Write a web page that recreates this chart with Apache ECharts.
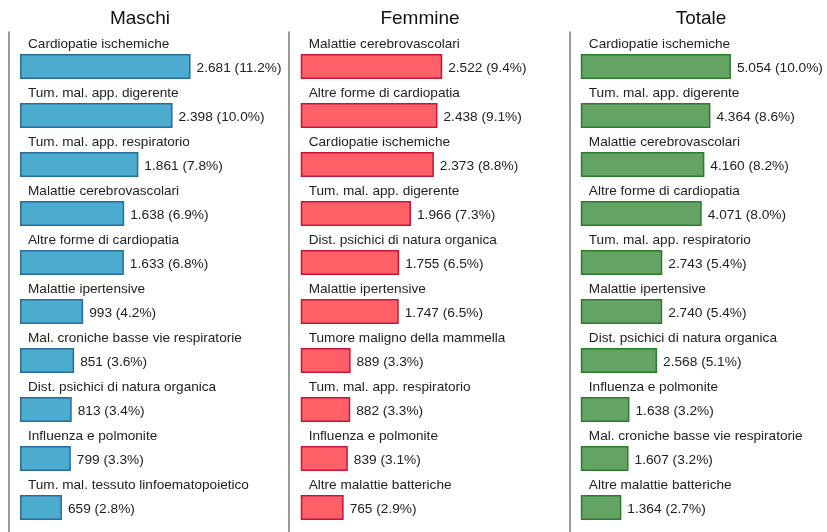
<!DOCTYPE html>
<html>
<head>
<meta charset="utf-8">
<script src="https://cdn.jsdelivr.net/npm/echarts@6/dist/echarts.min.js"></script>
<style>
  html, body { margin: 0; padding: 0; background: #fff; }
  #chart { width: 827px; height: 532px; }
</style>
</head>
<body>
<div id="chart"></div>
<script>
const titoli = ['Maschi', 'Femmine', 'Totale']

const causeMaschi = ['Cardiopatie ischemiche', 'Tum. mal. app. digerente', 'Tum. mal. app. respiratorio',
  'Malattie cerebrovascolari', 'Altre forme di cardiopatia', 'Malattie ipertensive',
  'Mal. croniche basse vie respiratorie', 'Dist. psichici di natura organica',
  'Influenza e polmonite', 'Tum. mal. tessuto linfoematopoietico']
const decessiMaschi = [2681, 2398, 1861, 1638, 1633, 993, 851, 813, 799, 659]
const percMaschi = [11.2, 10.0, 7.8, 6.9, 6.8, 4.2, 3.6, 3.4, 3.3, 2.8]

const causeFemmine = ['Malattie cerebrovascolari', 'Altre forme di cardiopatia', 'Cardiopatie ischemiche',
  'Tum. mal. app. digerente', 'Dist. psichici di natura organica', 'Malattie ipertensive',
  'Tumore maligno della mammella', 'Tum. mal. app. respiratorio',
  'Influenza e polmonite', 'Altre malattie batteriche']
const decessiFemmine = [2522, 2438, 2373, 1966, 1755, 1747, 889, 882, 839, 765]
const percFemmine = [9.4, 9.1, 8.8, 7.3, 6.5, 6.5, 3.3, 3.3, 3.1, 2.9]

const causeTotale = ['Cardiopatie ischemiche', 'Tum. mal. app. digerente', 'Malattie cerebrovascolari',
  'Altre forme di cardiopatia', 'Tum. mal. app. respiratorio', 'Malattie ipertensive',
  'Dist. psichici di natura organica', 'Influenza e polmonite',
  'Mal. croniche basse vie respiratorie', 'Altre malattie batteriche']
const decessiTotale = [5054, 4364, 4160, 4071, 2743, 2740, 2568, 1638, 1607, 1364]
const percTotale = [10.0, 8.6, 8.2, 8.0, 5.4, 5.4, 5.1, 3.2, 3.2, 2.7]

// pannelli: posizione asse, scala dell'asse valori, colori
const pannelli = [
  { cause: causeMaschi, valori: decessiMaschi, perc: percMaschi, left: 9, min: -173, max: 3915, width: 260,
    fill: '#4bacd0', border: '#2a6b98', titleX: 140 },
  { cause: causeFemmine, valori: decessiFemmine, perc: percFemmine, left: 289, min: -209, max: 4426, width: 260,
    fill: '#ff5f66', border: '#c8143c', titleX: 420 },
  { cause: causeTotale, valori: decessiTotale, perc: percTotale, left: 570, min: -364, max: 8053, width: 250,
    fill: '#63a363', border: '#2b7d2b', titleX: 701 }
]

const fmt = n => String(n).replace(/\B(?=(\d{3})+(?!\d))/g, '.')
const font = 'Liberation Sans, Arial, sans-serif'

const grid = []
const xAxis = []
const yAxis = []
const series = []
const title = []

pannelli.forEach((p, i) => {
  title.push({
    text: titoli[i],
    left: p.titleX,
    top: 9,
    textAlign: 'center',
    padding: 0,
    textStyle: { fontFamily: font, fontSize: 19, fontWeight: 'normal', color: '#111' }
  })
  // griglia delle barre
  grid.push({ left: p.left, top: 42, height: 492, width: p.width })
  xAxis.push({ type: 'value', gridIndex: 2 * i, min: p.min, max: p.max, show: false })
  yAxis.push({
    type: 'category',
    gridIndex: 2 * i,
    inverse: true,
    data: p.cause,
    axisLine: { show: false },
    axisTick: { show: false },
    axisLabel: { show: false }
  })
  // griglia della linea verticale
  grid.push({ left: p.left, top: 32, bottom: 0, width: 1 })
  xAxis.push({ type: 'value', gridIndex: 2 * i + 1, min: 0, max: 1, show: false })
  yAxis.push({
    type: 'category',
    gridIndex: 2 * i + 1,
    data: [],
    axisLine: { show: true, onZero: false, lineStyle: { color: '#777', width: 1.5 } },
    axisTick: { show: false },
    axisLabel: { show: false }
  })
  // barre con valore a destra
  series.push({
    type: 'bar',
    xAxisIndex: 2 * i,
    yAxisIndex: 2 * i,
    data: p.valori,
    barWidth: 25,
    barGap: '-100%',
    z: 3,
    itemStyle: { color: p.fill, borderColor: p.border, borderWidth: 1.5 },
    label: {
      show: true,
      position: 'right',
      distance: 6,
      offset: [0, 1.5],
      fontFamily: font,
      fontSize: 13.7,
      color: '#222',
      formatter: d => fmt(d.value) + ' (' + p.perc[d.dataIndex].toFixed(1) + '%)'
    },
    silent: true
  })
  // stesse barre, trasparenti, solo per il nome della causa sopra
  series.push({
    type: 'bar',
    xAxisIndex: 2 * i,
    yAxisIndex: 2 * i,
    data: p.valori,
    barWidth: 25,
    barGap: '-100%',
    z: 2,
    itemStyle: { color: 'transparent' },
    label: {
      show: true,
      position: [8, -17],
      align: 'left',
      verticalAlign: 'top',
      fontFamily: font,
      fontSize: 13.6,
      color: '#222',
      formatter: d => p.cause[d.dataIndex]
    },
    silent: true
  })
})

const chart = echarts.init(document.getElementById('chart'))
chart.setOption({ animation: false, title, grid, xAxis, yAxis, series })
</script>
</body>
</html>
